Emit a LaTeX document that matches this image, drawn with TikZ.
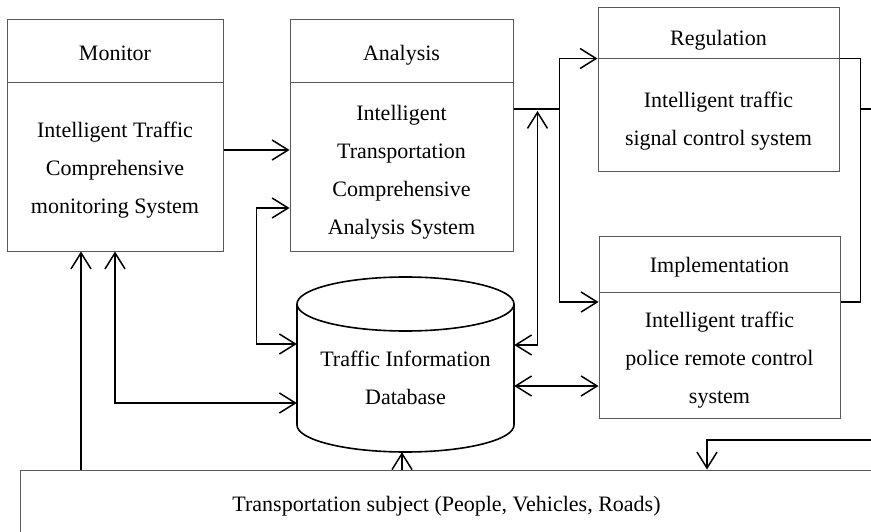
\documentclass[tikz,border=0pt]{standalone}
\usepackage{fontspec}
\setmainfont{Liberation Serif}
\usetikzlibrary{arrows.meta}
\begin{document}
\begin{tikzpicture}[x=1pt,y=-1pt,
  every node/.style={font=\fontsize{22}{38}\selectfont, inner sep=0pt, align=center},
  boxpart/.style={draw=black!65, line width=1pt},
  tip/.tip={Straight Barb[length=16pt,width=20pt]},
  plain/.style={draw, line width=1.5pt},
  conn/.style={plain, -tip},
  both/.style={plain, tip-tip},
  dbline/.style={draw, line width=1.6pt}]
\useasboundingbox (0,0) rectangle (871,532);
\clip (0,0) rectangle (871,532);

% Monitor
\node[boxpart, minimum width=216pt, minimum height=63pt] (monH) at (115,51.5) {};
\node[boxpart, minimum width=216pt, minimum height=168pt] (monB) at (115,167) {};
\node (monHt) at ([yshift=-2pt]monH.center) {Monitor};
\node (monBt) at ([yshift=-3pt]monB.center) {Intelligent Traffic\\Comprehensive\\monitoring System};

% Analysis
\node[boxpart, minimum width=223pt, minimum height=63pt] (anaH) at (401.5,51.5) {};
\node[boxpart, minimum width=223pt, minimum height=168pt] (anaB) at (401.5,167) {};
\node (anaHt) at ([yshift=-4pt]anaH.center) {Analysis};
\node (anaBt) at ([yshift=-5pt]anaB.center) {Intelligent\\Transportation\\Comprehensive\\Analysis System};

% Regulation
\node[boxpart, minimum width=241pt, minimum height=51pt] (regH) at (718.5,33.5) {};
\node[boxpart, minimum width=241pt, minimum height=113pt] (regB) at (718.5,115.5) {};
\node (regHt) at ([yshift=-6.5pt]regH.center) {Regulation};
\node (regBt) at ([yshift=-6pt]regB.center) {Intelligent traffic\\signal control system};

% Implementation
\node[boxpart, minimum width=241pt, minimum height=55pt] (impH) at (719.5,264.5) {};
\node[boxpart, minimum width=241pt, minimum height=126pt] (impB) at (719.5,355) {};
\node (impHt) at ([yshift=-3pt]impH.center) {Implementation};
\node (impBt) at ([yshift=-5pt]impB.center) {Intelligent traffic\\police remote control\\system};

% Database cylinder
\node[minimum width=217pt, minimum height=175pt] (db) at (405.5,364.5) {};
\draw[dbline] (297,304) -- (297,425)
  .. controls (297,439.9) and (345.6,452) .. (405.5,452)
  .. controls (465.4,452) and (514,439.9) .. (514,425) -- (514,304);
\draw[dbline] (405.5,304) ellipse [x radius=108.5pt, y radius=27pt];
\node (dbtxt) at (405.5,378) {Traffic Information\\Database};

% Transportation subject
\node[boxpart, minimum width=853pt, minimum height=67pt] (bot) at (446.5,503.5) {};
\node (bott) at ([yshift=-3pt]bot.center) {Transportation subject (People, Vehicles, Roads)};

\coordinate (edgeA) at (873,109);
\coordinate (edgeB) at (873,440);

% Connectors
\draw[conn] ([yshift=17pt]monB.east) -- ([yshift=17pt]anaB.west);
\draw[both] ([yshift=-41pt]anaB.west) -- ++(-33,0) |- ([yshift=20.5pt]db.west);
\draw[conn] ([xshift=-34pt]monB.south |- bot.north) -- ([xshift=-34pt]monB.south);
\draw[both] (monB.south) |- ([yshift=-38.5pt]db.west);
\draw[conn] ([xshift=-3.5pt]db.south |- bot.north) -- ([xshift=-3.5pt]db.south);

\draw[plain] ([yshift=58pt]anaB.east) -- ++(46,0) coordinate (split);
\draw[conn] (split) |- (regB.north west);
\draw[conn] (split) |- ([yshift=53pt]impB.west);
\draw[both] ([xshift=24pt,yshift=56pt]anaB.east) |- ([yshift=19.5pt]db.east);
\draw[both] ([yshift=-21.5pt]db.east) -- ([yshift=-31pt]impB.west);

\draw[plain] (regB.north east) -- ++(21,0) coordinate (rturn) |- ([yshift=53pt]impB.east);
\draw[plain] (rturn |- edgeA) -- (edgeA);
\draw[conn] (edgeB) -| ([xshift=260.5pt]bot.north);
\end{tikzpicture}
\end{document}
